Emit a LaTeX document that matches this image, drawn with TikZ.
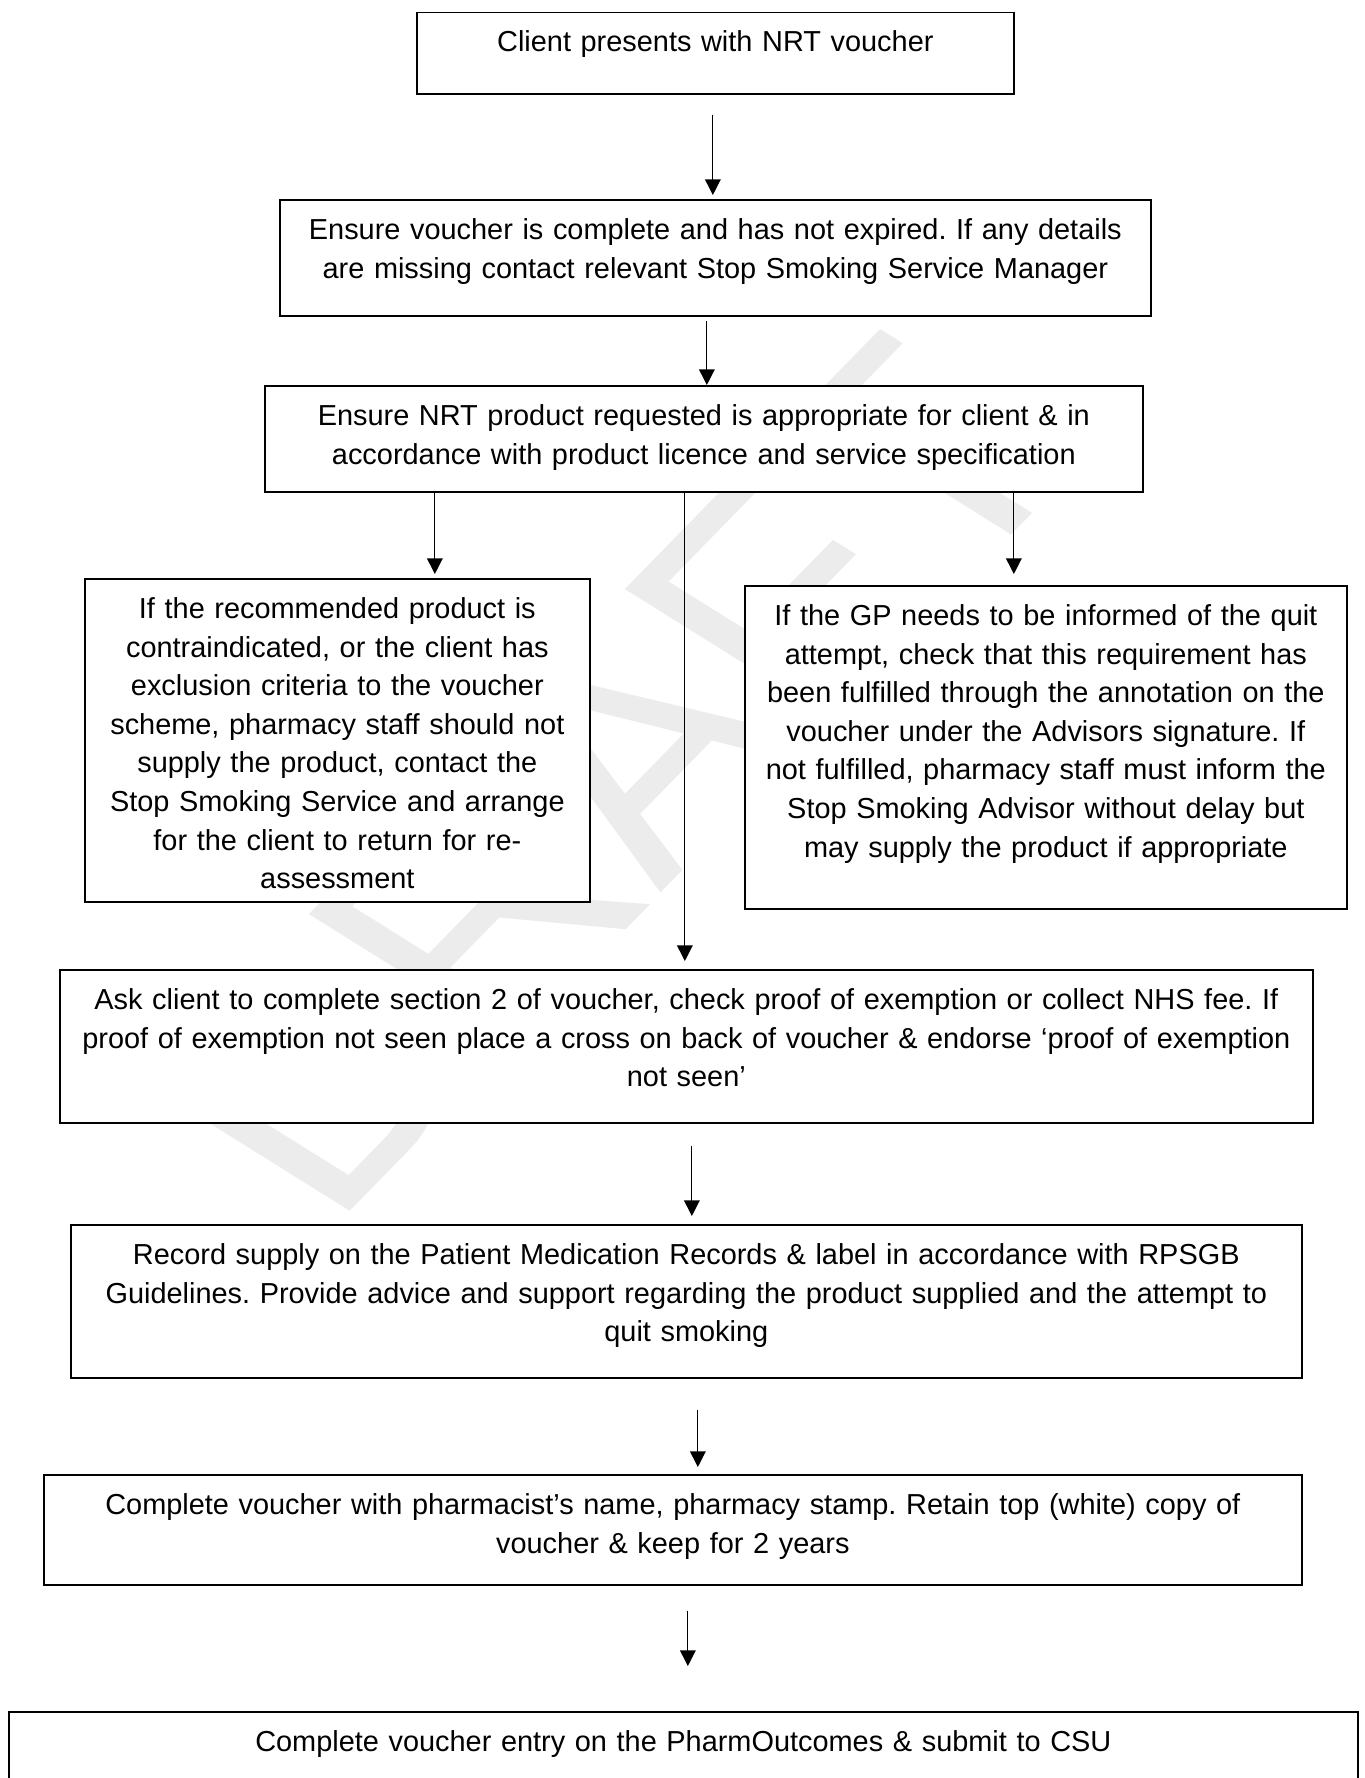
\documentclass[tikz,border=0pt]{standalone}
\usepackage{fontspec}
\setmainfont{Liberation Sans}
\usetikzlibrary{arrows.meta}
\frenchspacing

\begin{document}
\begin{tikzpicture}[
    x = 1pt, y = -1pt,
    stepbox/.style = {
        draw, fill=white, rectangle, line width=0.85pt, inner sep=0pt, anchor=north west
    },
    steptext/.style = {
        anchor=north, align=center, text width=640pt, inner xsep=0pt,
        inner ysep=9.5pt, text height=10.5pt, font=\fontsize{14.45}{19.3}\selectfont
    },
    arr/.style = {-{Triangle[length=7.8pt, width=7.8pt]}, line width=0.6pt},
    draft/.style = {
        text=gray!15, font=\fontsize{190}{190}\selectfont, inner sep=0pt,
        transform shape, rotate=52, xscale=0.975, anchor=base west
    }
  ]
    \useasboundingbox (0,0) rectangle (682.5,889);
    \clip (0,0) rectangle (682.5,889);
    \begin{scope}[yscale=0.8]
        \node[draft] (wm) at (165.6,769.4) {DRAFT};  % watermark, hidden by the boxes
    \end{scope}

    \node[stepbox, minimum width=298.5pt, minimum height=40.75pt] (b1) at (208,5.75) {};
    \node[steptext] (t1) at (b1.north) {Client presents with NRT voucher};

    \node[stepbox, minimum width=435.5pt, minimum height=58pt] (b2) at (139.5,99.5) {};
    \node[steptext] (t2) at (b2.north) {Ensure voucher is complete and has not expired. If any details\\
        are missing contact relevant Stop Smoking Service Manager};

    \node[stepbox, minimum width=439pt, minimum height=53pt] (b3) at (132,192.5) {};
    \node[steptext] (t3) at (b3.north) {Ensure NRT product requested is appropriate for client \& in\\
        accordance with product licence and service specification};

    \node[stepbox, minimum width=252.5pt, minimum height=161.5pt] (lbox) at (42,289) {};  % contraindicated
    \node[steptext] (tl) at (lbox.north) {If the recommended product is\\
        contraindicated, or the client has\\
        exclusion criteria to the voucher\\
        scheme, pharmacy staff should not\\
        supply the product, contact the\\
        Stop Smoking Service and arrange\\
        for the client to return for re-\\
        assessment};

    \node[stepbox, minimum width=301pt, minimum height=161.5pt] (rbox) at (372,292.5) {};  % GP informed
    \node[steptext] (tr) at (rbox.north) {If the GP needs to be informed of the quit\\
        attempt, check that this requirement has\\
        been fulfilled through the annotation on the\\
        voucher under the Advisors signature. If\\
        not fulfilled, pharmacy staff must inform the\\
        Stop Smoking Advisor without delay but\\
        may supply the product if appropriate};

    \node[stepbox, minimum width=626.5pt, minimum height=76.5pt] (b4) at (29.5,484.5) {};
    \node[steptext] (t4) at (b4.north) {Ask client to complete section 2 of voucher, check proof of exemption or collect NHS fee. If\\
        proof of exemption not seen place a cross on back of voucher \& endorse ‘proof of exemption\\
        not seen’};

    \node[stepbox, minimum width=615.5pt, minimum height=76.5pt] (b5) at (35,612) {};
    \node[steptext] (t5) at (b5.north) {Record supply on the Patient Medication Records \& label in accordance with RPSGB\\
        Guidelines. Provide advice and support regarding the product supplied and the attempt to\\
        quit smoking};

    \node[stepbox, minimum width=629pt, minimum height=55pt] (b6) at (21.5,737) {};
    \node[steptext] (t6) at (b6.north) {Complete voucher with pharmacist’s name, pharmacy stamp. Retain top (white) copy of\\
        voucher \& keep for 2 years};

    \node[stepbox, minimum width=674.5pt, minimum height=60pt] (b7) at (4,855.5) {};  % runs off the page
    \node[steptext] (t7) at (b7.north) {Complete voucher entry on the PharmOutcomes \& submit to CSU};

    % connectors
    \coordinate (a1) at ([xshift=-1.25pt]b1.south);
    \draw[arr, shorten <=10pt, shorten >=2pt] (a1) -- (a1 |- b2.north);
    \coordinate (a2) at ([xshift=-4.25pt]b2.south);
    \draw[arr, shorten <=2pt] (a2) -- (a2 |- b3.north);
    \coordinate (aL) at ([xshift=-134.5pt]b3.south);
    \draw[arr, shorten >=2pt] (aL) -- (aL |- lbox.north);
    \coordinate (aM) at ([xshift=-9.5pt]b3.south);
    \draw[arr, shorten >=4pt] (aM) -- (aM |- b4.north);
    \coordinate (aR) at ([xshift=155pt]b3.south);
    \draw[arr, shorten >=5.5pt] (aR) -- (aR |- rbox.north);
    \coordinate (a5) at ([xshift=2.75pt]b4.south);
    \draw[arr, shorten <=11pt, shorten >=4pt] (a5) -- (a5 |- b5.north);
    \coordinate (a6) at ([xshift=5.75pt]b5.south);
    \draw[arr, shorten <=15.5pt, shorten >=3.5pt] (a6) -- (a6 |- b6.north);
    \coordinate (a7) at ([xshift=7.5pt]b6.south);
    \draw[arr, shorten <=12.5pt, shorten >=22.5pt] (a7) -- (a7 |- b7.north);
\end{tikzpicture}
\end{document}
